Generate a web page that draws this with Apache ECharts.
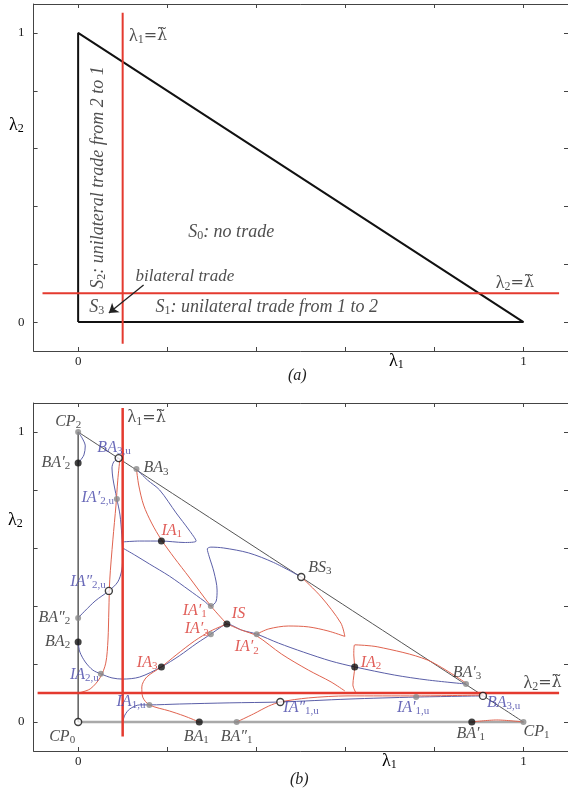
<!DOCTYPE html>
<html>
<head>
<meta charset="utf-8">
<script src="https://cdn.jsdelivr.net/npm/echarts@6/dist/echarts.min.js"></script>
<style>
html, body { margin: 0; padding: 0; background: #fff; }
#main { width: 568px; height: 790px; }
</style>
</head>
<body>
<div id="main"></div>
<script>
var chart = echarts.init(document.getElementById('main'));

// ---- data ----
var lamT = 0.1;
var triangle = [[0, 0], [1, 0], [0, 1]];
var tickValues = [0, 0.2, 0.4, 0.6, 0.8, 1];
var tickLabels = [0, 1];

// critical lines lambda = lambda~ (panel a, panel b)
var critVA = [[lamT, -0.075], [lamT, 1.07]];
var critHA = [[-0.08, lamT], [1.08, lamT]];
var critVB = [[lamT, -0.05], [lamT, 1.083]];
var critHB = [[-0.091, lamT], [1.08, lamT]];
var arrowA = [[0.147, 0.128], [0.069, 0.031]];

// blue curves, panel (b)
var blueTop = [[0, 1], [0.009, 0.979], [0.016, 0.952], [0.013, 0.921], [0.004, 0.9], [0, 0.893]];
var blueLeft = [[0.091, 0.91], [0.08, 0.897], [0.076, 0.876], [0.078, 0.841], [0.082, 0.807], [0.087, 0.769],
  [0.094, 0.714], [0.098, 0.645], [0.1, 0.576], [0.098, 0.524], [0.089, 0.483], [0.069, 0.452],
  [0.038, 0.417], [0, 0.359]];
var blueLoop = [[0.131, 0.872], [0.156, 0.834], [0.183, 0.8], [0.22, 0.721], [0.249, 0.662], [0.265, 0.624],
  [0.238, 0.619], [0.187, 0.624], [0.138, 0.624], [0.1, 0.621]];
var blueMid = [[0.1, 0.6], [0.127, 0.576], [0.16, 0.545], [0.205, 0.503], [0.249, 0.455], [0.283, 0.417],
  [0.298, 0.4], [0.31, 0.417], [0.312, 0.455], [0.305, 0.517], [0.294, 0.572], [0.29, 0.597],
  [0.298, 0.603], [0.327, 0.6], [0.383, 0.583], [0.439, 0.55], [0.501, 0.5]];
var blueLow = [[0, 0.276], [0.004, 0.241], [0.016, 0.207], [0.033, 0.179], [0.051, 0.166], [0.076, 0.152],
  [0.1, 0.148], [0.138, 0.155], [0.187, 0.19], [0.227, 0.228], [0.267, 0.272], [0.298, 0.303],
  [0.321, 0.328], [0.334, 0.338], [0.367, 0.317], [0.401, 0.303], [0.45, 0.272], [0.506, 0.241],
  [0.568, 0.21], [0.621, 0.19], [0.71, 0.162], [0.784, 0.145], [0.871, 0.131]];
var blueBottom = [[0.1, 0], [0.105, 0.024], [0.116, 0.045], [0.138, 0.059], [0.16, 0.059], [0.227, 0.062],
  [0.339, 0.066], [0.454, 0.069], [0.606, 0.079], [0.759, 0.086], [0.909, 0.09]];

// red curves, panel (b)
var redA = [[0.131, 0.872], [0.136, 0.817], [0.147, 0.748], [0.165, 0.686], [0.187, 0.628], [0.216, 0.566],
  [0.249, 0.5], [0.298, 0.4], [0.334, 0.338]];
var redB = [[0.334, 0.338], [0.367, 0.317], [0.401, 0.297], [0.457, 0.234], [0.517, 0.179], [0.568, 0.138],
  [0.599, 0.107]];
var redC = [[0.501, 0.5], [0.546, 0.431], [0.59, 0.341], [0.599, 0.295], [0.561, 0.314], [0.517, 0.328],
  [0.472, 0.331], [0.428, 0.321], [0.401, 0.303]];
var redD = [[0.624, 0.1], [0.617, 0.128], [0.621, 0.19], [0.619, 0.231], [0.621, 0.266], [0.673, 0.259],
  [0.784, 0.214], [0.871, 0.134]];
var redE = [[0.356, 0], [0.394, 0.028], [0.428, 0.055], [0.454, 0.069], [0.517, 0.083], [0.606, 0.09],
  [0.762, 0.09], [0.909, 0.093]];
var redF = [[0.884, 0], [0.94, 0.007], [1, 0]];
var redG = [[0.272, 0], [0.238, 0.021], [0.205, 0.038], [0.16, 0.059], [0.145, 0.086], [0.143, 0.121],
  [0.154, 0.155], [0.187, 0.19], [0.22, 0.231], [0.261, 0.279], [0.298, 0.314], [0.334, 0.338]];
var redH = [[0, 0.1], [0.027, 0.114], [0.049, 0.152], [0.062, 0.203], [0.067, 0.283], [0.069, 0.386],
  [0.071, 0.49], [0.078, 0.628], [0.085, 0.748], [0.089, 0.834], [0.094, 0.91]];

// named points, panel (b): [label, x, y]
var blackPts = [['BA′|2', 0, 0.893], ['IA|1', 0.187, 0.624], ['BA|2', 0, 0.276], ['IS|', 0.334, 0.338],
  ['IA|3', 0.187, 0.19], ['IA|2', 0.621, 0.19], ['BA|1', 0.272, 0], ['BA′|1', 0.884, 0]];
var greyPts = [['CP|2', 0, 1], ['BA|3', 0.131, 0.872], ['IA′|2,u', 0.087, 0.769], ['BA″|2', 0, 0.359],
  ['IA′|1', 0.298, 0.4], ['IA′|3', 0.298, 0.303], ['IA′|2', 0.401, 0.303], ['IA|2,u', 0.051, 0.166],
  ['IA|1,u', 0.16, 0.059], ['BA″|1', 0.356, 0], ['IA′|1,u', 0.759, 0.086], ['BA′|3', 0.871, 0.131],
  ['CP|1', 1, 0]];
var openPts = [['BA|3,u', 0.091, 0.91], ['IA″|2,u', 0.069, 0.452], ['CP|0', 0, 0], ['BS|3', 0.501, 0.5],
  ['IA″|1,u', 0.454, 0.069], ['BA|3,u', 0.909, 0.09]];

// label placement (pixel offset from point, alignment), same order as above
var blackPos = [[-8, 0, 'right'], [0, -10, 'left'], [-8, 0, 'right'], [5, -10, 'left'],
  [-4, -4, 'right'], [6, -4, 'left'], [-3, 15, 'center'], [-1, 12, 'center']];
var greyPos = [[3, -10, 'right'], [7, -1, 'left'], [-3, -1, 'right'], [-8, 0, 'right'],
  [-4, 5, 'right'], [-2, -5, 'right'], [-10, 13, 'center'], [-2, 1, 'right'],
  [-4, -3, 'right'], [0, 15, 'center'], [-3, 11, 'center'], [1, -11, 'center'],
  [0, 10, 'left']];
var openPos = [[12, -10, 'right'], [-3, -9, 'right'], [-3, 15, 'right'], [7, -9, 'left'],
  [3, 6, 'left'], [4, 7, 'left']];

// ---- styles ----
var SERIF = 'Liberation Serif';
var RED = '#e43a2f', BLUE = '#5b5fa8', PINK = '#e0634f';
var TXT_BLUE = '#4545a8', TXT_RED = '#d8362f', TXT_DARK = '#222';

var richPt = {
  m: { fontFamily: SERIF, fontStyle: 'italic', fontSize: 16 },
  s: { fontFamily: SERIF, fontSize: 11, padding: [7, 0, 0, 0] }
};
var richRegion = {
  i: { fontFamily: SERIF, fontStyle: 'italic', fontSize: 18, color: '#222' },
  b: { fontFamily: SERIF, fontStyle: 'italic', fontSize: 17, color: '#222' },
  s: { fontFamily: SERIF, fontSize: 12, color: '#222', padding: [7, 0, 0, 0] },
  g: { fontFamily: SERIF, fontSize: 18, color: '#222' },
  t: { fontFamily: 'DejaVu Serif', fontSize: 16, color: '#222' },
  gs: { fontFamily: SERIF, fontSize: 12, color: '#222', padding: [8, 0, 0, 0] }
};

function ptText(name) {
  var p = name.split('|');
  return '{m|' + p[0] + '}' + (p[1] ? '{s|' + p[1] + '}' : '');
}
function ptColor(name) {
  if (name.indexOf(',u') >= 0) return TXT_BLUE;
  if (name.charAt(0) === 'I') return TXT_RED;
  return TXT_DARK;
}

function axisPair(gi, dim) {
  var base = {
    gridIndex: gi, type: 'value', min: -0.1, max: 1.1,
    axisLine: { onZero: false, lineStyle: { color: '#444', width: 1 } },
    axisTick: { inside: true, length: 4, customValues: tickValues, lineStyle: { color: '#444' } },
    splitLine: { show: false }
  };
  var a = echarts.util.merge({
    position: dim === 'x' ? 'bottom' : 'left',
    axisLabel: { customValues: tickLabels, margin: dim === 'x' ? 4 : 9,
      fontFamily: SERIF, fontSize: 13, color: '#222' }
  }, base);
  var b = echarts.util.merge({
    position: dim === 'x' ? 'top' : 'right',
    axisLabel: { show: false }
  }, echarts.util.clone(base));
  return [a, b];
}

function curve(gi, data, color, width, z) {
  return {
    type: 'line', xAxisIndex: gi * 2, yAxisIndex: gi * 2, data: data,
    symbol: 'none', smooth: 0.3, silent: true, z: z || 2,
    lineStyle: { color: color, width: width }
  };
}

function pointSeries(pts, pos, itemStyle, size) {
  return {
    type: 'scatter', xAxisIndex: 2, yAxisIndex: 2, symbolSize: size, z: 10, silent: true,
    itemStyle: itemStyle,
    data: pts.map(function (p, i) {
      return {
        name: p[0], value: [p[1], p[2]],
        label: { offset: [pos[i][0], pos[i][1]], align: pos[i][2], color: ptColor(p[0]) }
      };
    }),
    label: {
      show: true, position: 'inside', verticalAlign: 'middle',
      formatter: function (d) { return ptText(d.name); },
      rich: richPt
    }
  };
}

// text annotations in data coordinates: [rich text, x, y, align, rotate]
var LAM1 = '{g|λ}{gs|1}{t|=λ\u0303}', LAM2 = '{g|λ}{gs|2}{t|=λ\u0303}';
var notesA = [
  [LAM1, 0.114, 0.99, 'left', 0],
  [LAM2, 0.938, 0.135, 'left', 0],
  ['{i|S}{s|0}{i|: no trade}', 0.247, 0.311, 'left', 0],
  ['{i|S}{s|2}{i|: unilateral trade from 2 to 1}', 0.045, 0.5, 'center', 90],
  ['{i|S}{s|1}{i|: unilateral trade from 1 to 2}', 0.174, 0.05, 'left', 0],
  ['{b|bilateral trade}', 0.129, 0.156, 'left', 0],
  ['{i|S}{s|3}', 0.025, 0.05, 'left', 0]
];
var notesB = [
  [LAM1, 0.111, 1.05, 'left', 0],
  [LAM2, 1.0, 0.135, 'left', 0]
];

function noteSeries(gi, notes) {
  return {
    type: 'scatter', xAxisIndex: gi * 2, yAxisIndex: gi * 2, symbolSize: 0.1, z: 12, silent: true,
    itemStyle: { color: 'transparent' },
    data: notes.map(function (n) {
      return { value: [n[1], n[2]], label: { formatter: n[0], align: n[3], rotate: n[4] } };
    }),
    label: { show: true, position: 'inside', verticalAlign: 'middle', rich: richRegion }
  };
}

var xa = axisPair(0, 'x'), xb = axisPair(1, 'x');
var ya = axisPair(0, 'y'), yb = axisPair(1, 'y');

var triA = curve(0, triangle.concat([triangle[0]]), '#111', 2, 3);
triA.markLine = {
  silent: true, symbol: ['none', 'arrow'], symbolSize: 9, label: { show: false },
  lineStyle: { color: '#222', width: 1.3, type: 'solid' },
  data: [[{ coord: arrowA[0] }, { coord: arrowA[1] }]]
};

var option = {
  animation: false,
  backgroundColor: '#fff',
  grid: [
    { left: 33.6, top: 4, width: 538.8, height: 347 },
    { left: 33.6, top: 403, width: 538.8, height: 348 }
  ],
  xAxis: [xa[0], xa[1], xb[0], xb[1]],
  yAxis: [ya[0], ya[1], yb[0], yb[1]],
  graphic: [
    { type: 'text', left: 389, top: 352, style: { text: '{g|λ}{gs|1}', rich: richRegion } },
    { type: 'text', left: 9, top: 116, style: { text: '{g|λ}{gs|2}', rich: richRegion } },
    { type: 'text', left: 288, top: 368, style: { text: '(a)', font: 'italic 16px "Liberation Serif"', fill: '#222' } },
    { type: 'text', left: 382, top: 752, style: { text: '{g|λ}{gs|1}', rich: richRegion } },
    { type: 'text', left: 8, top: 511, style: { text: '{g|λ}{gs|2}', rich: richRegion } },
    { type: 'text', left: 290, top: 772, style: { text: '(b)', font: 'italic 16px "Liberation Serif"', fill: '#222' } }
  ],
  series: [
    // panel (a)
    triA,
    curve(0, critVA, RED, 2, 4),
    curve(0, critHA, RED, 2, 4),
    noteSeries(0, notesA),
    // panel (b): triangle edges
    curve(1, [triangle[0], triangle[1]], '#a9a9a9', 2.5, 1),
    curve(1, [triangle[1], triangle[2]], '#555', 1, 1),
    curve(1, [triangle[2], triangle[0]], '#333', 1.2, 1),
    // blue curves
    curve(1, blueTop, BLUE, 1),
    curve(1, blueLeft, BLUE, 1),
    curve(1, blueLoop, BLUE, 1),
    curve(1, blueMid, BLUE, 1),
    curve(1, blueLow, BLUE, 1),
    curve(1, blueBottom, BLUE, 1),
    // red curves
    curve(1, redA, PINK, 1),
    curve(1, redB, PINK, 1),
    curve(1, redC, PINK, 1),
    curve(1, redD, PINK, 1),
    curve(1, redE, PINK, 1),
    curve(1, redF, PINK, 1),
    curve(1, redG, PINK, 1),
    curve(1, redH, PINK, 1),
    // critical lines
    curve(1, critVB, RED, 2.5, 5),
    curve(1, critHB, RED, 2.5, 5),
    // points
    pointSeries(blackPts, blackPos, { color: '#111' }, 7),
    pointSeries(greyPts, greyPos, { color: '#8a8a8a' }, 6),
    pointSeries(openPts, openPos, { color: '#fff', borderColor: '#111', borderWidth: 1.4 }, 7),
    noteSeries(1, notesB)
  ]
};

chart.setOption(option);
</script>
</body>
</html>
